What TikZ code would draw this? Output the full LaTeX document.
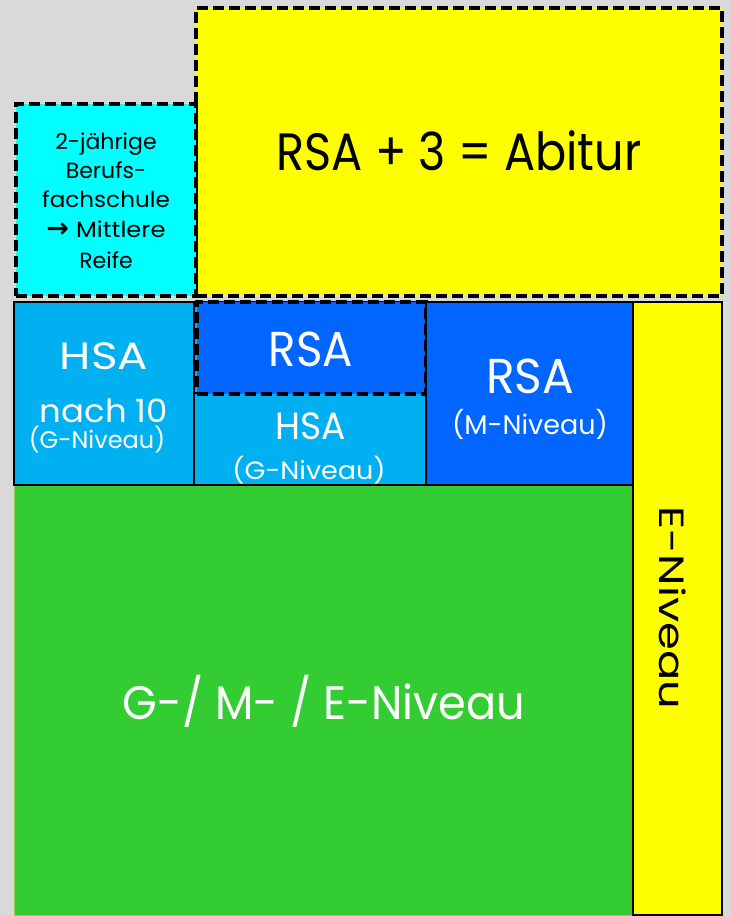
\documentclass[tikz,border=0pt]{standalone}
\usepackage{graphicx}
\usepackage{fontspec}
\setmainfont{Poppins}
\newfontfamily\arrowfont{DejaVu Sans}
\definecolor{bgGray}{HTML}{D9D9D9}
\definecolor{abiYellow}{HTML}{FFFF00}
\definecolor{bfsCyan}{HTML}{00FFFF}
\definecolor{lightBlue}{HTML}{00B0F0}
\definecolor{deepBlue}{HTML}{0066FF}
\definecolor{niveauGreen}{HTML}{33CC33}
\definecolor{greenEdge}{HTML}{92D050}
\newcommand{\fsz}[1]{\fontsize{#1}{#1}\selectfont}
\newcommand{\sx}[2]{\scalebox{#1}[1]{#2}}
\tikzset{
  box/.style={anchor=north west, inner sep=0pt, outer sep=0pt},
  solidbox/.style={box, draw=black, line width=2.2pt},
  dashbox/.style={box, draw=black, line width=3.5pt, dash pattern=on 11pt off 5pt},
  txt/.style={anchor=base, inner sep=0pt, align=center},
}
\begin{document}
\begin{tikzpicture}[x=1pt,y=-1pt]
\fill[bgGray] (0,0) rectangle (731,916);
\useasboundingbox (0,0) rectangle (731,916);

% top boxes
\node[dashbox, fill=abiYellow, minimum width=526pt, minimum height=288pt] (abi) at (196,8) {};
\node[dashbox, fill=bfsCyan, minimum width=180pt, minimum height=192pt] (bfs) at (16,104) {};

% green base
\node[box, fill=niveauGreen, draw=greenEdge, line width=1pt, minimum width=619pt, minimum height=430pt] (gme) at (14,485) {};

% row boxes
\node[solidbox, fill=lightBlue, minimum width=180pt, minimum height=183pt] (hsa10) at (14,302) {};
\node[solidbox, fill=lightBlue, minimum width=232pt, minimum height=183pt] (hsag) at (194,302) {};
\node[dashbox, fill=deepBlue, minimum width=229pt, minimum height=92pt] (rsad) at (197,302) {};
\node[solidbox, fill=deepBlue, minimum width=207pt, minimum height=183pt] (rsam) at (426,302) {};
\node[solidbox, fill=abiYellow, minimum width=89pt, minimum height=613pt] (eniv) at (633,302) {};

% texts
\node[txt] (tabi) at (459,170) {\fsz{52.5}\sx{0.88}{RSA + 3 = Abitur}};
\node[txt] (tb1) at (106,149) {\fsz{22}2-jährige};
\node[txt] (tb2) at (106,178) {\fsz{22}Berufs-};
\node[txt] (tb3) at (106,207) {\fsz{22}\sx{1.05}{fachschule}};
\node[txt] (tb4) at (106,237) {\fsz{22}{\arrowfont\bfseries\fsz{27}→}\hspace{7pt}\sx{1.1}{Mittlere}};
\node[txt] (tb5) at (106,268) {\fsz{22}Reife};

\node[txt, text=white] (th1) at (104,369) {\fsz{38}\sx{1.19}{HSA}};
\node[txt, text=white] (th2) at (104,422) {\fsz{32}\sx{1.06}{nach 10}};
\node[txt, text=white] (th3) at (97,448) {\fsz{24}(G-Niveau)};

\node[txt, text=white] (tr1) at (311,366) {\fsz{49}\sx{0.92}{RSA}};
\node[txt, text=white] (tg1) at (311,439) {\fsz{38}\sx{0.95}{HSA}};
\node[txt, text=white] (tg2) at (309,479) {\fsz{25}\sx{1.08}{(G-Niveau)}};

\node[txt, text=white] (tm1) at (530,393) {\fsz{49}\sx{0.96}{RSA}};
\node[txt, text=white] (tm2) at (530,434) {\fsz{27}(M-Niveau)};

\node[txt, text=white] (tgme) at (324,719) {\fsz{47}\sx{0.95}{G-/ M- / E-Niveau}};
\node[anchor=base, inner sep=0pt, rotate=-90] (teniv) at (659,608) {\fsz{35}\sx{1.28}{E-Niveau}};
\end{tikzpicture}
\end{document}
